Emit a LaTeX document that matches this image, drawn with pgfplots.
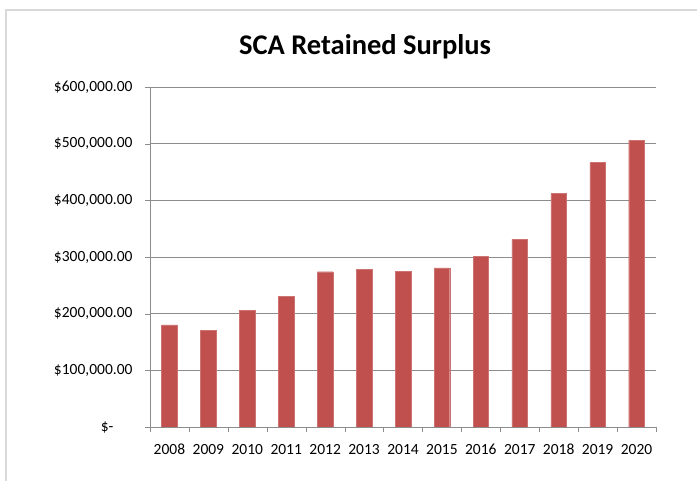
\documentclass[border=0pt]{standalone}
\usepackage{fontspec}
\setmainfont{Carlito}
\usepackage{pgfplots}
\pgfplotsset{compat=1.18}
\definecolor{barred}{HTML}{C0504D}
\definecolor{gridgray}{HTML}{8C8C8C}
\begin{document}
\begin{tikzpicture}[x=1pt,y=1pt]
\useasboundingbox (0,0) rectangle (697,481);
\draw[color=black!15, line width=1.2pt] (6,0) -- (6,471) -- (697,471);
\node[font=\fontsize{28.5}{32}\selectfont\bfseries] at (365,434) {SCA Retained Surplus};
\begin{axis}[
  at={(150pt,54pt)}, anchor=south west,
  width=506pt, height=340pt, scale only axis,
  xmin=-0.5, xmax=12.5, ymin=0, ymax=600000,
  ybar, bar width=15.6pt,
  xtick={0,1,2,3,4,5,6,7,8,9,10,11,12},
  xticklabels={2008,2009,2010,2011,2012,2013,2014,2015,2016,2017,2018,2019,2020},
  major x tick style={draw=none},
  minor xtick={-0.5,0.5,1.5,2.5,3.5,4.5,5.5,6.5,7.5,8.5,9.5,10.5,11.5,12.5},
  minor x tick style={draw=gridgray},
  minor tick length=5pt, major tick length=5pt,
  tick align=outside,
  ytick={0,100000,200000,300000,400000,500000,600000},
  yticklabels={{\$-\kern19pt},{\$100,000.00},{\$200,000.00},{\$300,000.00},{\$400,000.00},{\$500,000.00},{\$600,000.00}},
  major y tick style={draw=gridgray},
  ymajorgrids, xmajorgrids=false, xminorgrids=false,
  grid style={gridgray, line width=0.8pt},
  axis x line*=bottom, axis y line*=left,
  axis line style={gridgray, line width=0.8pt},
  ticklabel style={font=\fontsize{15.5}{18}\selectfont, text=black},
  yticklabel style={xshift=-9pt},
  xticklabel style={yshift=-8pt, text height=11pt, text depth=0pt},
  scaled y ticks=false,
]
\addplot[fill=barred, draw=barred!80!white, line width=0.4pt] coordinates {
(0,180000) (1,171000) (2,206000) (3,231000) (4,274000) (5,278000) (6,275000)
(7,281000) (8,301000) (9,331000) (10,412000) (11,467000) (12,506000)};
\end{axis}
\end{tikzpicture}
\end{document}
